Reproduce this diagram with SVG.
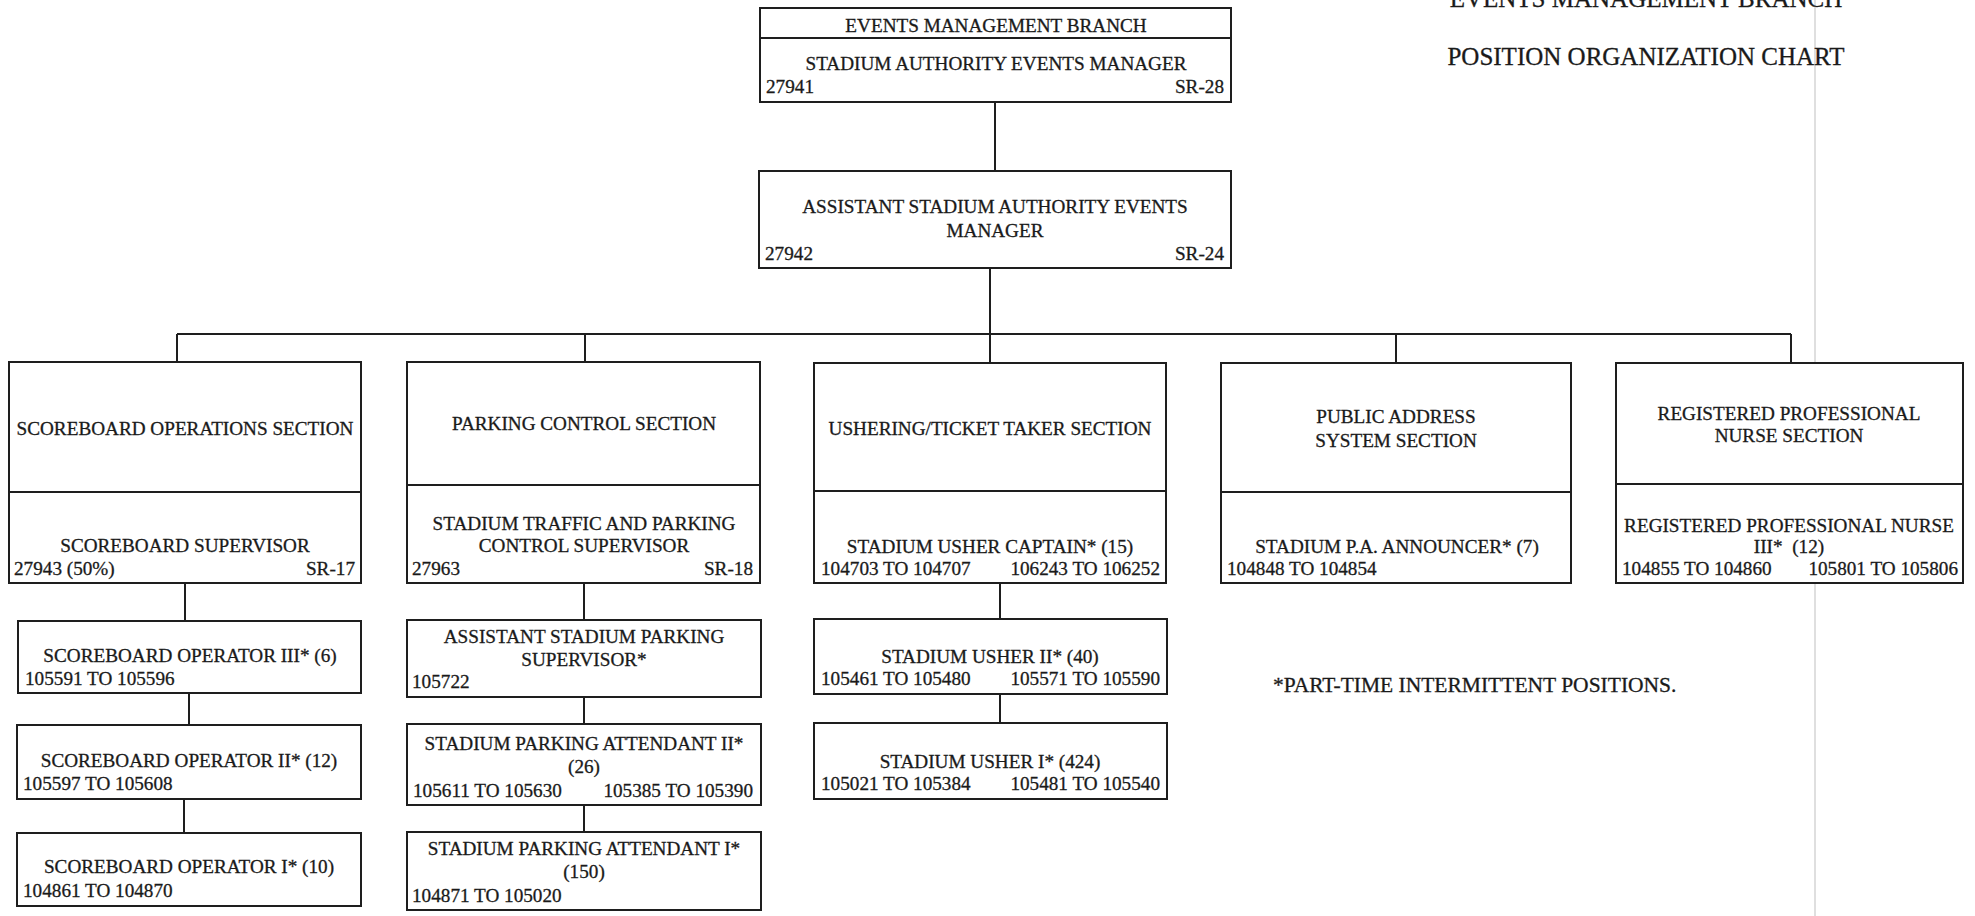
<svg xmlns="http://www.w3.org/2000/svg" width="1975" height="916" viewBox="0 0 1975 916">
<style>
.bx{fill:#fff;stroke:#1e1e1e;stroke-width:2}
.dv{stroke:#1e1e1e;stroke-width:2}
.cn{stroke:#1e1e1e;stroke-width:2;fill:none}
text{font-family:"Liberation Serif","Times New Roman",serif;font-size:19.2px;fill:#1a1a1a;stroke:#1a1a1a;stroke-width:0.3}
.c{text-anchor:middle}
.r{text-anchor:end}
.t{font-size:25px}
.f{font-size:21.5px}
</style>
<rect width="1975" height="916" fill="#fff"/>
<line x1="1815" y1="0" x2="1815" y2="916" stroke="#d4d4d4" stroke-width="1.5"/>
<g id="title">
<text class="t c" x="1646" y="7">EVENTS MANAGEMENT BRANCH</text>
<text class="t c" x="1646" y="65">POSITION ORGANIZATION CHART</text>
</g>
<g id="connectors">
<path class="cn" d="M995,102V171"/>
<path class="cn" d="M990,268V363"/>
<path class="cn" d="M177,334H1791"/>
<path class="cn" d="M177,334V362M585,334V362M1396,334V363M1791,334V363"/>
<path class="cn" d="M185,583V621M189,693V725M184,799V833"/>
<path class="cn" d="M584,583V620M584,697V724M584,805V832"/>
<path class="cn" d="M1000,583V619M1000,694V723"/>
</g>
<g id="events-manager">
<rect class="bx" x="760" y="8" width="471" height="94"/>
<line class="dv" x1="760" y1="38" x2="1231" y2="38"/>
<text class="c" x="996" y="32">EVENTS MANAGEMENT BRANCH</text>
<text class="c" x="996" y="70">STADIUM AUTHORITY EVENTS MANAGER</text>
<text x="766" y="93">27941</text>
<text class="r" x="1224" y="93">SR-28</text>
</g>
<g id="assistant-manager">
<rect class="bx" x="759" y="171" width="472" height="97"/>
<text class="c" x="995" y="213">ASSISTANT STADIUM AUTHORITY EVENTS</text>
<text class="c" x="995" y="237">MANAGER</text>
<text x="765" y="260">27942</text>
<text class="r" x="1224" y="260">SR-24</text>
</g>
<g id="scoreboard-section">
<rect class="bx" x="9" y="362" width="352" height="221"/>
<line class="dv" x1="9" y1="492" x2="361" y2="492"/>
<text class="c" x="185" y="435">SCOREBOARD OPERATIONS SECTION</text>
<text class="c" x="185" y="552">SCOREBOARD SUPERVISOR</text>
<text x="14" y="575">27943 (50%)</text>
<text class="r" x="355" y="575">SR-17</text>
</g>
<g id="scoreboard-op3">
<rect class="bx" x="18" y="621" width="343" height="72"/>
<text class="c" x="190" y="662">SCOREBOARD OPERATOR III* (6)</text>
<text x="25" y="685">105591 TO 105596</text>
</g>
<g id="scoreboard-op2">
<rect class="bx" x="17" y="725" width="344" height="74"/>
<text class="c" x="189" y="767">SCOREBOARD OPERATOR II* (12)</text>
<text x="23" y="790">105597 TO 105608</text>
</g>
<g id="scoreboard-op1">
<rect class="bx" x="17" y="833" width="344" height="73"/>
<text class="c" x="189" y="873">SCOREBOARD OPERATOR I* (10)</text>
<text x="23" y="897">104861 TO 104870</text>
</g>
<g id="parking-section">
<rect class="bx" x="407" y="362" width="353" height="221"/>
<line class="dv" x1="407" y1="485" x2="760" y2="485"/>
<text class="c" x="584" y="430">PARKING CONTROL SECTION</text>
<text class="c" x="584" y="530">STADIUM TRAFFIC AND PARKING</text>
<text class="c" x="584" y="552">CONTROL SUPERVISOR</text>
<text x="412" y="575">27963</text>
<text class="r" x="753" y="575">SR-18</text>
</g>
<g id="asst-parking-supervisor">
<rect class="bx" x="407" y="620" width="354" height="77"/>
<text class="c" x="584" y="643">ASSISTANT STADIUM PARKING</text>
<text class="c" x="584" y="666">SUPERVISOR*</text>
<text x="412" y="688">105722</text>
</g>
<g id="parking-attendant-2">
<rect class="bx" x="407" y="724" width="354" height="81"/>
<text class="c" x="584" y="750">STADIUM PARKING ATTENDANT II*</text>
<text class="c" x="584" y="773">(26)</text>
<text x="413" y="797">105611 TO 105630</text>
<text class="r" x="753" y="797">105385 TO 105390</text>
</g>
<g id="parking-attendant-1">
<rect class="bx" x="407" y="832" width="354" height="78"/>
<text class="c" x="584" y="855">STADIUM PARKING ATTENDANT I*</text>
<text class="c" x="584" y="878">(150)</text>
<text x="412" y="902">104871 TO 105020</text>
</g>
<g id="ushering-section">
<rect class="bx" x="814" y="363" width="352" height="220"/>
<line class="dv" x1="814" y1="491" x2="1166" y2="491"/>
<text class="c" x="990" y="435">USHERING/TICKET TAKER SECTION</text>
<text class="c" x="990" y="553">STADIUM USHER CAPTAIN* (15)</text>
<text x="821" y="575">104703 TO 104707</text>
<text class="r" x="1160" y="575">106243 TO 106252</text>
</g>
<g id="usher-2">
<rect class="bx" x="814" y="619" width="353" height="75"/>
<text class="c" x="990" y="663">STADIUM USHER II* (40)</text>
<text x="821" y="685">105461 TO 105480</text>
<text class="r" x="1160" y="685">105571 TO 105590</text>
</g>
<g id="usher-1">
<rect class="bx" x="814" y="723" width="353" height="76"/>
<text class="c" x="990" y="768">STADIUM USHER I* (424)</text>
<text x="821" y="790">105021 TO 105384</text>
<text class="r" x="1160" y="790">105481 TO 105540</text>
</g>
<g id="pa-section">
<rect class="bx" x="1221" y="363" width="350" height="220"/>
<line class="dv" x1="1221" y1="492" x2="1571" y2="492"/>
<text class="c" x="1396" y="423">PUBLIC ADDRESS</text>
<text class="c" x="1396" y="447">SYSTEM SECTION</text>
<text class="c" x="1397" y="553">STADIUM P.A. ANNOUNCER* (7)</text>
<text x="1227" y="575">104848 TO 104854</text>
</g>
<g id="nurse-section">
<rect class="bx" x="1616" y="363" width="347" height="220"/>
<line class="dv" x1="1616" y1="484" x2="1963" y2="484"/>
<text class="c" x="1789" y="420">REGISTERED PROFESSIONAL</text>
<text class="c" x="1789" y="442">NURSE SECTION</text>
<text class="c" x="1789" y="532">REGISTERED PROFESSIONAL NURSE</text>
<text class="c" x="1789" y="553" xml:space="preserve">III*  (12)</text>
<text x="1622" y="575">104855 TO 104860</text>
<text class="r" x="1958" y="575">105801 TO 105806</text>
</g>
<g id="footnote">
<text class="f" x="1273" y="692">*PART-TIME INTERMITTENT POSITIONS.</text>
</g>
</svg>
